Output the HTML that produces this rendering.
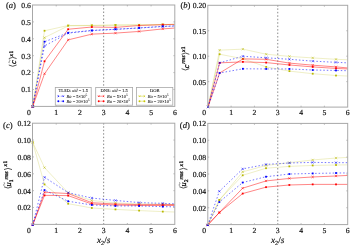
<!DOCTYPE html>
<html><head><meta charset="utf-8"><style>
html,body{margin:0;padding:0;background:#fff;}
body{width:350px;height:248px;overflow:hidden;}
svg{display:block;}
text{font-family:"Liberation Serif",serif;fill:#111;stroke:#111;stroke-width:0.17px;text-rendering:geometricPrecision;}
svg{will-change:transform;}
.tl{font-size:7.7px;}
.pl{font-size:8.6px;}
.lg{font-size:4.5px;stroke-width:0.06px;}
.yl{stroke-width:0.3px;}
.xl{font-size:9.2px;}
</style></head><body>
<svg width="350" height="248" viewBox="0 0 350 248">
<rect width="350" height="248" fill="#fff"/>
<line x1="103.65" y1="5" x2="103.65" y2="106.4" stroke="#8a8a8a" stroke-width="1" stroke-dasharray="1.5 1.96" stroke-dashoffset="0.39"/>
<polyline points="32.7,106.5 44.53,30.75 68.17,25.52 91.83,25.36 115.47,25.02 139.12,24.85 162.77,24.51 174.6,24.34" fill="none" stroke="#b8b800" stroke-width="0.7" stroke-opacity="0.32"/>
<rect x="31.8" y="105.6" width="1.8" height="1.8" fill="#b8b800"/>
<rect x="43.63" y="29.85" width="1.8" height="1.8" fill="#b8b800"/>
<rect x="67.27" y="24.62" width="1.8" height="1.8" fill="#b8b800"/>
<rect x="90.92" y="24.46" width="1.8" height="1.8" fill="#b8b800"/>
<rect x="114.57" y="24.12" width="1.8" height="1.8" fill="#b8b800"/>
<rect x="138.22" y="23.95" width="1.8" height="1.8" fill="#b8b800"/>
<rect x="161.87" y="23.61" width="1.8" height="1.8" fill="#b8b800"/>
<polyline points="32.7,106.5 44.53,37.67 68.17,25.86 91.83,25.52 115.47,25.19 139.12,25.02 162.77,24.68 174.6,24.51" fill="none" stroke="#b8b800" stroke-width="0.7" stroke-opacity="0.32"/>
<path d="M31.55 105.35L33.85 107.65M31.55 107.65L33.85 105.35" stroke="#b8b800" stroke-width="0.5" fill="none"/>
<path d="M43.38 36.52L45.68 38.82M43.38 38.82L45.68 36.52" stroke="#b8b800" stroke-width="0.5" fill="none"/>
<path d="M67.02 24.71L69.33 27.01M67.02 27.01L69.33 24.71" stroke="#b8b800" stroke-width="0.5" fill="none"/>
<path d="M90.67 24.37L92.98 26.67M90.67 26.67L92.98 24.37" stroke="#b8b800" stroke-width="0.5" fill="none"/>
<path d="M114.32 24.04L116.62 26.34M114.32 26.34L116.62 24.04" stroke="#b8b800" stroke-width="0.5" fill="none"/>
<path d="M137.97 23.87L140.28 26.17M137.97 26.17L140.28 23.87" stroke="#b8b800" stroke-width="0.5" fill="none"/>
<path d="M161.62 23.53L163.92 25.83M161.62 25.83L163.92 23.53" stroke="#b8b800" stroke-width="0.5" fill="none"/>
<polyline points="32.7,106.5 44.53,73.77 68.17,39.86 91.83,34.13 115.47,33.12 139.12,31.43 162.77,28.9 174.6,28.05" fill="none" stroke="#ff0000" stroke-width="0.8" stroke-opacity="0.6"/>
<path d="M31.55 105.35L33.85 107.65M31.55 107.65L33.85 105.35" stroke="#ff0000" stroke-width="0.5" fill="none"/>
<path d="M43.38 72.62L45.68 74.92M43.38 74.92L45.68 72.62" stroke="#ff0000" stroke-width="0.5" fill="none"/>
<path d="M67.02 38.71L69.33 41.01M67.02 41.01L69.33 38.71" stroke="#ff0000" stroke-width="0.5" fill="none"/>
<path d="M90.67 32.98L92.98 35.28M90.67 35.28L92.98 32.98" stroke="#ff0000" stroke-width="0.5" fill="none"/>
<path d="M114.32 31.97L116.62 34.27M114.32 34.27L116.62 31.97" stroke="#ff0000" stroke-width="0.5" fill="none"/>
<path d="M137.97 30.28L140.28 32.58M137.97 32.58L140.28 30.28" stroke="#ff0000" stroke-width="0.5" fill="none"/>
<path d="M161.62 27.75L163.92 30.05M161.62 30.05L163.92 27.75" stroke="#ff0000" stroke-width="0.5" fill="none"/>
<polyline points="32.7,106.5 44.53,61.29 68.17,29.24 91.83,27.04 115.47,27.38 139.12,25.52 162.77,24.68 174.6,24.34" fill="none" stroke="#ff0000" stroke-width="0.8" stroke-opacity="0.6"/>
<rect x="31.8" y="105.6" width="1.8" height="1.8" fill="#ff0000"/>
<rect x="43.63" y="60.39" width="1.8" height="1.8" fill="#ff0000"/>
<rect x="67.27" y="28.34" width="1.8" height="1.8" fill="#ff0000"/>
<rect x="90.92" y="26.14" width="1.8" height="1.8" fill="#ff0000"/>
<rect x="114.57" y="26.48" width="1.8" height="1.8" fill="#ff0000"/>
<rect x="138.22" y="24.62" width="1.8" height="1.8" fill="#ff0000"/>
<rect x="161.87" y="23.78" width="1.8" height="1.8" fill="#ff0000"/>
<polyline points="32.7,106.5 44.53,45.94 68.17,33.12 91.83,30.59 115.47,29.4 139.12,28.05 162.77,26.54 174.6,26.03" fill="none" stroke="#0000ff" stroke-width="0.9" stroke-opacity="0.6" stroke-dasharray="1.5 2.0"/>
<path d="M31.55 105.35L33.85 107.65M31.55 107.65L33.85 105.35" stroke="#0000ff" stroke-width="0.5" fill="none"/>
<path d="M43.38 44.79L45.68 47.09M43.38 47.09L45.68 44.79" stroke="#0000ff" stroke-width="0.5" fill="none"/>
<path d="M67.02 31.97L69.33 34.27M67.02 34.27L69.33 31.97" stroke="#0000ff" stroke-width="0.5" fill="none"/>
<path d="M90.67 29.44L92.98 31.74M90.67 31.74L92.98 29.44" stroke="#0000ff" stroke-width="0.5" fill="none"/>
<path d="M114.32 28.25L116.62 30.55M114.32 30.55L116.62 28.25" stroke="#0000ff" stroke-width="0.5" fill="none"/>
<path d="M137.97 26.9L140.28 29.2M137.97 29.2L140.28 26.9" stroke="#0000ff" stroke-width="0.5" fill="none"/>
<path d="M161.62 25.39L163.92 27.69M161.62 27.69L163.92 25.39" stroke="#0000ff" stroke-width="0.5" fill="none"/>
<polyline points="32.7,106.5 44.53,41.72 68.17,32.78 91.83,30.42 115.47,29.24 139.12,27.89 162.77,26.37 174.6,25.86" fill="none" stroke="#0000ff" stroke-width="0.9" stroke-opacity="0.6" stroke-dasharray="1.5 2.0"/>
<rect x="31.8" y="105.6" width="1.8" height="1.8" fill="#0000ff"/>
<rect x="43.63" y="40.82" width="1.8" height="1.8" fill="#0000ff"/>
<rect x="67.27" y="31.88" width="1.8" height="1.8" fill="#0000ff"/>
<rect x="90.92" y="29.52" width="1.8" height="1.8" fill="#0000ff"/>
<rect x="114.57" y="28.34" width="1.8" height="1.8" fill="#0000ff"/>
<rect x="138.22" y="26.99" width="1.8" height="1.8" fill="#0000ff"/>
<rect x="161.87" y="25.47" width="1.8" height="1.8" fill="#0000ff"/>
<rect x="32.5" y="5" width="142.3" height="101.4" fill="none" stroke="#a8a8a8" stroke-width="1"/>
<path d="M56.22 106.4v-1.4M56.22 5v1.4M79.93 106.4v-1.4M79.93 5v1.4M103.65 106.4v-1.4M103.65 5v1.4M127.37 106.4v-1.4M127.37 5v1.4M151.08 106.4v-1.4M151.08 5v1.4M32.5 89.5h1.4M174.8 89.5h-1.4M32.5 72.6h1.4M174.8 72.6h-1.4M32.5 55.7h1.4M174.8 55.7h-1.4M32.5 38.8h1.4M174.8 38.8h-1.4M32.5 21.9h1.4M174.8 21.9h-1.4" stroke="#a8a8a8" stroke-width="0.8"/>
<text x="30.9" y="92.35" text-anchor="end" class="tl">0.1</text>
<text x="30.9" y="75.45" text-anchor="end" class="tl">0.2</text>
<text x="30.9" y="58.55" text-anchor="end" class="tl">0.3</text>
<text x="30.9" y="41.65" text-anchor="end" class="tl">0.4</text>
<text x="30.9" y="24.75" text-anchor="end" class="tl">0.5</text>
<text x="30.9" y="7.85" text-anchor="end" class="tl">0.6</text>
<text x="56.22" y="114.7" text-anchor="middle" class="tl">1</text>
<text x="79.93" y="114.7" text-anchor="middle" class="tl">2</text>
<text x="103.65" y="114.7" text-anchor="middle" class="tl">3</text>
<text x="127.37" y="114.7" text-anchor="middle" class="tl">4</text>
<text x="151.08" y="114.7" text-anchor="middle" class="tl">5</text>
<text x="174.8" y="114.7" text-anchor="middle" class="tl">6</text>
<text x="28.9" y="114.7" text-anchor="middle" class="tl">0</text>
<line x1="277.75" y1="5.3" x2="277.75" y2="107.1" stroke="#8a8a8a" stroke-width="1" stroke-dasharray="1.5 1.96" stroke-dashoffset="0.39"/>
<polyline points="208,107 219.63,54.22 242.91,58.79 266.18,66.91 289.44,71.12 312.72,73.71 335.99,75.53 347.62,76.04" fill="none" stroke="#b8b800" stroke-width="0.7" stroke-opacity="0.32"/>
<rect x="207.1" y="106.1" width="1.8" height="1.8" fill="#b8b800"/>
<rect x="218.73" y="53.32" width="1.8" height="1.8" fill="#b8b800"/>
<rect x="242" y="57.89" width="1.8" height="1.8" fill="#b8b800"/>
<rect x="265.28" y="66.01" width="1.8" height="1.8" fill="#b8b800"/>
<rect x="288.55" y="70.22" width="1.8" height="1.8" fill="#b8b800"/>
<rect x="311.82" y="72.81" width="1.8" height="1.8" fill="#b8b800"/>
<rect x="335.09" y="74.63" width="1.8" height="1.8" fill="#b8b800"/>
<polyline points="208,107 219.63,50.16 242.91,49.14 266.18,54.22 289.44,56.4 312.72,57.92 335.99,59.3 347.62,59.8" fill="none" stroke="#b8b800" stroke-width="0.7" stroke-opacity="0.32"/>
<path d="M206.85 105.85L209.15 108.15M206.85 108.15L209.15 105.85" stroke="#b8b800" stroke-width="0.5" fill="none"/>
<path d="M218.48 49.01L220.78 51.31M218.48 51.31L220.78 49.01" stroke="#b8b800" stroke-width="0.5" fill="none"/>
<path d="M241.75 47.99L244.06 50.29M241.75 50.29L244.06 47.99" stroke="#b8b800" stroke-width="0.5" fill="none"/>
<path d="M265.03 53.07L267.32 55.37M265.03 55.37L267.32 53.07" stroke="#b8b800" stroke-width="0.5" fill="none"/>
<path d="M288.3 55.25L290.59 57.55M288.3 57.55L290.59 55.25" stroke="#b8b800" stroke-width="0.5" fill="none"/>
<path d="M311.57 56.77L313.87 59.07M311.57 59.07L313.87 56.77" stroke="#b8b800" stroke-width="0.5" fill="none"/>
<path d="M334.84 58.15L337.13 60.45M334.84 60.45L337.13 58.15" stroke="#b8b800" stroke-width="0.5" fill="none"/>
<polyline points="208,107 219.63,73 242.91,58.89 266.18,59.3 289.44,63.1 312.72,65.18 335.99,66.91 347.62,67.92" fill="none" stroke="#ff0000" stroke-width="0.8" stroke-opacity="0.6"/>
<path d="M206.85 105.85L209.15 108.15M206.85 108.15L209.15 105.85" stroke="#ff0000" stroke-width="0.5" fill="none"/>
<path d="M218.48 71.85L220.78 74.15M218.48 74.15L220.78 71.85" stroke="#ff0000" stroke-width="0.5" fill="none"/>
<path d="M241.75 57.74L244.06 60.04M241.75 60.04L244.06 57.74" stroke="#ff0000" stroke-width="0.5" fill="none"/>
<path d="M265.03 58.15L267.32 60.45M265.03 60.45L267.32 58.15" stroke="#ff0000" stroke-width="0.5" fill="none"/>
<path d="M288.3 61.95L290.59 64.25M288.3 64.25L290.59 61.95" stroke="#ff0000" stroke-width="0.5" fill="none"/>
<path d="M311.57 64.03L313.87 66.33M311.57 66.33L313.87 64.03" stroke="#ff0000" stroke-width="0.5" fill="none"/>
<path d="M334.84 65.76L337.13 68.06M334.84 68.06L337.13 65.76" stroke="#ff0000" stroke-width="0.5" fill="none"/>
<polyline points="208,107 219.63,62.85 242.91,61.88 266.18,62.59 289.44,64.98 312.72,66.91 335.99,68.43 347.62,68.94" fill="none" stroke="#ff0000" stroke-width="0.8" stroke-opacity="0.6"/>
<rect x="207.1" y="106.1" width="1.8" height="1.8" fill="#ff0000"/>
<rect x="218.73" y="61.95" width="1.8" height="1.8" fill="#ff0000"/>
<rect x="242" y="60.98" width="1.8" height="1.8" fill="#ff0000"/>
<rect x="265.28" y="61.69" width="1.8" height="1.8" fill="#ff0000"/>
<rect x="288.55" y="64.08" width="1.8" height="1.8" fill="#ff0000"/>
<rect x="311.82" y="66.01" width="1.8" height="1.8" fill="#ff0000"/>
<rect x="335.09" y="67.53" width="1.8" height="1.8" fill="#ff0000"/>
<polyline points="208,107 219.63,62.85 242.91,56.25 266.18,57.77 289.44,59.3 312.72,61.12 335.99,62.34 347.62,62.85" fill="none" stroke="#0000ff" stroke-width="0.9" stroke-opacity="0.6" stroke-dasharray="1.5 2.0"/>
<path d="M206.85 105.85L209.15 108.15M206.85 108.15L209.15 105.85" stroke="#0000ff" stroke-width="0.5" fill="none"/>
<path d="M218.48 61.7L220.78 64M218.48 64L220.78 61.7" stroke="#0000ff" stroke-width="0.5" fill="none"/>
<path d="M241.75 55.1L244.06 57.4M241.75 57.4L244.06 55.1" stroke="#0000ff" stroke-width="0.5" fill="none"/>
<path d="M265.03 56.62L267.32 58.92M265.03 58.92L267.32 56.62" stroke="#0000ff" stroke-width="0.5" fill="none"/>
<path d="M288.3 58.15L290.59 60.45M288.3 60.45L290.59 58.15" stroke="#0000ff" stroke-width="0.5" fill="none"/>
<path d="M311.57 59.97L313.87 62.27M311.57 62.27L313.87 59.97" stroke="#0000ff" stroke-width="0.5" fill="none"/>
<path d="M334.84 61.19L337.13 63.49M334.84 63.49L337.13 61.19" stroke="#0000ff" stroke-width="0.5" fill="none"/>
<polyline points="208,107 219.63,73 242.91,68.79 266.18,68.94 289.44,68.94 312.72,70 335.99,70.46 347.62,70.71" fill="none" stroke="#0000ff" stroke-width="0.9" stroke-opacity="0.6" stroke-dasharray="1.5 2.0"/>
<rect x="207.1" y="106.1" width="1.8" height="1.8" fill="#0000ff"/>
<rect x="218.73" y="72.1" width="1.8" height="1.8" fill="#0000ff"/>
<rect x="242" y="67.89" width="1.8" height="1.8" fill="#0000ff"/>
<rect x="265.28" y="68.04" width="1.8" height="1.8" fill="#0000ff"/>
<rect x="288.55" y="68.04" width="1.8" height="1.8" fill="#0000ff"/>
<rect x="311.82" y="69.1" width="1.8" height="1.8" fill="#0000ff"/>
<rect x="335.09" y="69.56" width="1.8" height="1.8" fill="#0000ff"/>
<rect x="207.8" y="5.3" width="139.9" height="101.8" fill="none" stroke="#a8a8a8" stroke-width="1"/>
<path d="M231.12 107.1v-1.4M231.12 5.3v1.4M254.43 107.1v-1.4M254.43 5.3v1.4M277.75 107.1v-1.4M277.75 5.3v1.4M301.07 107.1v-1.4M301.07 5.3v1.4M324.38 107.1v-1.4M324.38 5.3v1.4M207.8 81.65h1.4M347.7 81.65h-1.4M207.8 56.2h1.4M347.7 56.2h-1.4M207.8 30.75h1.4M347.7 30.75h-1.4" stroke="#a8a8a8" stroke-width="0.8"/>
<text x="206.2" y="84.5" text-anchor="end" class="tl">0.05</text>
<text x="206.2" y="59.05" text-anchor="end" class="tl">0.10</text>
<text x="206.2" y="33.6" text-anchor="end" class="tl">0.15</text>
<text x="206.2" y="8.15" text-anchor="end" class="tl">0.20</text>
<text x="231.12" y="115.4" text-anchor="middle" class="tl">1</text>
<text x="254.43" y="115.4" text-anchor="middle" class="tl">2</text>
<text x="277.75" y="115.4" text-anchor="middle" class="tl">3</text>
<text x="301.07" y="115.4" text-anchor="middle" class="tl">4</text>
<text x="324.38" y="115.4" text-anchor="middle" class="tl">5</text>
<text x="347.7" y="115.4" text-anchor="middle" class="tl">6</text>
<text x="204.2" y="115.4" text-anchor="middle" class="tl">0</text>
<line x1="103.65" y1="123.2" x2="103.65" y2="224.4" stroke="#8a8a8a" stroke-width="1" stroke-dasharray="1.5 1.96" stroke-dashoffset="0.39"/>
<polyline points="32.7,142.4 44.53,184.44 68.17,203.7 91.83,207.98 115.47,209.41 139.12,210.59 162.77,211.6 174.6,212.02" fill="none" stroke="#b8b800" stroke-width="0.7" stroke-opacity="0.32"/>
<rect x="31.8" y="141.5" width="1.8" height="1.8" fill="#b8b800"/>
<rect x="43.63" y="183.54" width="1.8" height="1.8" fill="#b8b800"/>
<rect x="67.27" y="202.8" width="1.8" height="1.8" fill="#b8b800"/>
<rect x="90.92" y="207.08" width="1.8" height="1.8" fill="#b8b800"/>
<rect x="114.57" y="208.51" width="1.8" height="1.8" fill="#b8b800"/>
<rect x="138.22" y="209.69" width="1.8" height="1.8" fill="#b8b800"/>
<rect x="161.87" y="210.7" width="1.8" height="1.8" fill="#b8b800"/>
<polyline points="32.7,142.4 44.53,167.63 68.17,192.85 91.83,200.5 115.47,202.94 139.12,203.78 162.77,204.2 174.6,204.62" fill="none" stroke="#b8b800" stroke-width="0.7" stroke-opacity="0.32"/>
<path d="M31.55 141.25L33.85 143.55M31.55 143.55L33.85 141.25" stroke="#b8b800" stroke-width="0.5" fill="none"/>
<path d="M43.38 166.48L45.68 168.78M43.38 168.78L45.68 166.48" stroke="#b8b800" stroke-width="0.5" fill="none"/>
<path d="M67.02 191.7L69.33 194M67.02 194L69.33 191.7" stroke="#b8b800" stroke-width="0.5" fill="none"/>
<path d="M90.67 199.35L92.98 201.65M90.67 201.65L92.98 199.35" stroke="#b8b800" stroke-width="0.5" fill="none"/>
<path d="M114.32 201.79L116.62 204.09M114.32 204.09L116.62 201.79" stroke="#b8b800" stroke-width="0.5" fill="none"/>
<path d="M137.97 202.63L140.28 204.93M137.97 204.93L140.28 202.63" stroke="#b8b800" stroke-width="0.5" fill="none"/>
<path d="M161.62 203.05L163.92 205.35M161.62 205.35L163.92 203.05" stroke="#b8b800" stroke-width="0.5" fill="none"/>
<polyline points="32.7,224.8 44.53,192.26 68.17,193.52 91.83,202.69 115.47,204.03 139.12,204.62 162.77,204.62 174.6,204.62" fill="none" stroke="#ff0000" stroke-width="0.8" stroke-opacity="0.6"/>
<path d="M31.55 223.65L33.85 225.95M31.55 225.95L33.85 223.65" stroke="#ff0000" stroke-width="0.5" fill="none"/>
<path d="M43.38 191.11L45.68 193.41M43.38 193.41L45.68 191.11" stroke="#ff0000" stroke-width="0.5" fill="none"/>
<path d="M67.02 192.37L69.33 194.67M67.02 194.67L69.33 192.37" stroke="#ff0000" stroke-width="0.5" fill="none"/>
<path d="M90.67 201.54L92.98 203.84M90.67 203.84L92.98 201.54" stroke="#ff0000" stroke-width="0.5" fill="none"/>
<path d="M114.32 202.88L116.62 205.18M114.32 205.18L116.62 202.88" stroke="#ff0000" stroke-width="0.5" fill="none"/>
<path d="M137.97 203.47L140.28 205.77M137.97 205.77L140.28 203.47" stroke="#ff0000" stroke-width="0.5" fill="none"/>
<path d="M161.62 203.47L163.92 205.77M161.62 205.77L163.92 203.47" stroke="#ff0000" stroke-width="0.5" fill="none"/>
<polyline points="32.7,224.8 44.53,195.37 68.17,195.62 91.83,204.03 115.47,205.04 139.12,205.46 162.77,205.46 174.6,205.46" fill="none" stroke="#ff0000" stroke-width="0.8" stroke-opacity="0.6"/>
<rect x="31.8" y="223.9" width="1.8" height="1.8" fill="#ff0000"/>
<rect x="43.63" y="194.47" width="1.8" height="1.8" fill="#ff0000"/>
<rect x="67.27" y="194.72" width="1.8" height="1.8" fill="#ff0000"/>
<rect x="90.92" y="203.13" width="1.8" height="1.8" fill="#ff0000"/>
<rect x="114.57" y="204.14" width="1.8" height="1.8" fill="#ff0000"/>
<rect x="138.22" y="204.56" width="1.8" height="1.8" fill="#ff0000"/>
<rect x="161.87" y="204.56" width="1.8" height="1.8" fill="#ff0000"/>
<polyline points="32.7,224.8 44.53,177.29 68.17,192.68 91.83,198.06 115.47,200.42 139.12,202.6 162.77,203.36 174.6,203.78" fill="none" stroke="#0000ff" stroke-width="0.9" stroke-opacity="0.6" stroke-dasharray="1.5 2.0"/>
<path d="M31.55 223.65L33.85 225.95M31.55 225.95L33.85 223.65" stroke="#0000ff" stroke-width="0.5" fill="none"/>
<path d="M43.38 176.14L45.68 178.44M43.38 178.44L45.68 176.14" stroke="#0000ff" stroke-width="0.5" fill="none"/>
<path d="M67.02 191.53L69.33 193.83M67.02 193.83L69.33 191.53" stroke="#0000ff" stroke-width="0.5" fill="none"/>
<path d="M90.67 196.91L92.98 199.21M90.67 199.21L92.98 196.91" stroke="#0000ff" stroke-width="0.5" fill="none"/>
<path d="M114.32 199.27L116.62 201.57M114.32 201.57L116.62 199.27" stroke="#0000ff" stroke-width="0.5" fill="none"/>
<path d="M137.97 201.45L140.28 203.75M137.97 203.75L140.28 201.45" stroke="#0000ff" stroke-width="0.5" fill="none"/>
<path d="M161.62 202.21L163.92 204.51M161.62 204.51L163.92 202.21" stroke="#0000ff" stroke-width="0.5" fill="none"/>
<polyline points="32.7,224.8 44.53,190.07 68.17,201.26 91.83,204.96 115.47,205.97 139.12,205.97 162.77,206.64 174.6,206.81" fill="none" stroke="#0000ff" stroke-width="0.9" stroke-opacity="0.6" stroke-dasharray="1.5 2.0"/>
<rect x="31.8" y="223.9" width="1.8" height="1.8" fill="#0000ff"/>
<rect x="43.63" y="189.17" width="1.8" height="1.8" fill="#0000ff"/>
<rect x="67.27" y="200.36" width="1.8" height="1.8" fill="#0000ff"/>
<rect x="90.92" y="204.06" width="1.8" height="1.8" fill="#0000ff"/>
<rect x="114.57" y="205.07" width="1.8" height="1.8" fill="#0000ff"/>
<rect x="138.22" y="205.07" width="1.8" height="1.8" fill="#0000ff"/>
<rect x="161.87" y="205.74" width="1.8" height="1.8" fill="#0000ff"/>
<rect x="32.5" y="123.2" width="142.3" height="101.2" fill="none" stroke="#a8a8a8" stroke-width="1"/>
<path d="M56.22 224.4v-1.4M56.22 123.2v1.4M79.93 224.4v-1.4M79.93 123.2v1.4M103.65 224.4v-1.4M103.65 123.2v1.4M127.37 224.4v-1.4M127.37 123.2v1.4M151.08 224.4v-1.4M151.08 123.2v1.4M32.5 207.53h1.4M174.8 207.53h-1.4M32.5 190.67h1.4M174.8 190.67h-1.4M32.5 173.8h1.4M174.8 173.8h-1.4M32.5 156.93h1.4M174.8 156.93h-1.4M32.5 140.07h1.4M174.8 140.07h-1.4" stroke="#a8a8a8" stroke-width="0.8"/>
<text x="30.9" y="210.38" text-anchor="end" class="tl">0.02</text>
<text x="30.9" y="193.52" text-anchor="end" class="tl">0.04</text>
<text x="30.9" y="176.65" text-anchor="end" class="tl">0.06</text>
<text x="30.9" y="159.78" text-anchor="end" class="tl">0.08</text>
<text x="30.9" y="142.92" text-anchor="end" class="tl">0.10</text>
<text x="30.9" y="126.05" text-anchor="end" class="tl">0.12</text>
<text x="56.22" y="232.7" text-anchor="middle" class="tl">1</text>
<text x="79.93" y="232.7" text-anchor="middle" class="tl">2</text>
<text x="103.65" y="232.7" text-anchor="middle" class="tl">3</text>
<text x="127.37" y="232.7" text-anchor="middle" class="tl">4</text>
<text x="151.08" y="232.7" text-anchor="middle" class="tl">5</text>
<text x="174.8" y="232.7" text-anchor="middle" class="tl">6</text>
<text x="28.9" y="232.7" text-anchor="middle" class="tl">0</text>
<line x1="277.75" y1="123.4" x2="277.75" y2="224.6" stroke="#8a8a8a" stroke-width="1" stroke-dasharray="1.5 1.96" stroke-dashoffset="0.39"/>
<polyline points="207.7,225 219.36,199.98 242.69,175.29 266.02,168.22 289.36,166.36 312.68,165.44 336.01,165.01 347.68,164.85" fill="none" stroke="#b8b800" stroke-width="0.7" stroke-opacity="0.32"/>
<rect x="206.8" y="224.1" width="1.8" height="1.8" fill="#b8b800"/>
<rect x="218.46" y="199.08" width="1.8" height="1.8" fill="#b8b800"/>
<rect x="241.79" y="174.39" width="1.8" height="1.8" fill="#b8b800"/>
<rect x="265.12" y="167.32" width="1.8" height="1.8" fill="#b8b800"/>
<rect x="288.46" y="165.46" width="1.8" height="1.8" fill="#b8b800"/>
<rect x="311.78" y="164.54" width="1.8" height="1.8" fill="#b8b800"/>
<rect x="335.12" y="164.11" width="1.8" height="1.8" fill="#b8b800"/>
<polyline points="207.7,225 219.36,199.98 242.69,171.84 266.02,165.52 289.36,162.66 312.68,159.96 336.01,158.02 347.68,157.43" fill="none" stroke="#b8b800" stroke-width="0.7" stroke-opacity="0.32"/>
<path d="M206.55 223.85L208.85 226.15M206.55 226.15L208.85 223.85" stroke="#b8b800" stroke-width="0.5" fill="none"/>
<path d="M218.21 198.83L220.51 201.13M218.21 201.13L220.51 198.83" stroke="#b8b800" stroke-width="0.5" fill="none"/>
<path d="M241.54 170.69L243.84 172.99M241.54 172.99L243.84 170.69" stroke="#b8b800" stroke-width="0.5" fill="none"/>
<path d="M264.88 164.37L267.17 166.67M264.88 166.67L267.17 164.37" stroke="#b8b800" stroke-width="0.5" fill="none"/>
<path d="M288.21 161.5L290.5 163.81M288.21 163.81L290.5 161.5" stroke="#b8b800" stroke-width="0.5" fill="none"/>
<path d="M311.53 158.81L313.83 161.11M311.53 161.11L313.83 158.81" stroke="#b8b800" stroke-width="0.5" fill="none"/>
<path d="M334.87 156.87L337.16 159.17M334.87 159.17L337.16 156.87" stroke="#b8b800" stroke-width="0.5" fill="none"/>
<polyline points="207.7,225 219.36,212.53 242.69,188.18 266.02,180.94 289.36,178.41 312.68,176.98 336.01,175.97 347.68,175.46" fill="none" stroke="#ff0000" stroke-width="0.8" stroke-opacity="0.6"/>
<path d="M206.55 223.85L208.85 226.15M206.55 226.15L208.85 223.85" stroke="#ff0000" stroke-width="0.5" fill="none"/>
<path d="M218.21 211.38L220.51 213.68M218.21 213.68L220.51 211.38" stroke="#ff0000" stroke-width="0.5" fill="none"/>
<path d="M241.54 187.03L243.84 189.33M241.54 189.33L243.84 187.03" stroke="#ff0000" stroke-width="0.5" fill="none"/>
<path d="M264.88 179.79L267.17 182.09M264.88 182.09L267.17 179.79" stroke="#ff0000" stroke-width="0.5" fill="none"/>
<path d="M288.21 177.26L290.5 179.56M288.21 179.56L290.5 177.26" stroke="#ff0000" stroke-width="0.5" fill="none"/>
<path d="M311.53 175.83L313.83 178.13M311.53 178.13L313.83 175.83" stroke="#ff0000" stroke-width="0.5" fill="none"/>
<path d="M334.87 174.82L337.16 177.12M334.87 177.12L337.16 174.82" stroke="#ff0000" stroke-width="0.5" fill="none"/>
<polyline points="207.7,225 219.36,212.53 242.69,193.57 266.02,187.17 289.36,184.98 312.68,184.39 336.01,184.39 347.68,184.39" fill="none" stroke="#ff0000" stroke-width="0.8" stroke-opacity="0.6"/>
<rect x="206.8" y="224.1" width="1.8" height="1.8" fill="#ff0000"/>
<rect x="218.46" y="211.63" width="1.8" height="1.8" fill="#ff0000"/>
<rect x="241.79" y="192.67" width="1.8" height="1.8" fill="#ff0000"/>
<rect x="265.12" y="186.27" width="1.8" height="1.8" fill="#ff0000"/>
<rect x="288.46" y="184.08" width="1.8" height="1.8" fill="#ff0000"/>
<rect x="311.78" y="183.49" width="1.8" height="1.8" fill="#ff0000"/>
<rect x="335.12" y="183.49" width="1.8" height="1.8" fill="#ff0000"/>
<polyline points="207.7,225 219.36,191.3 242.69,168.89 266.02,164.42 289.36,162.99 312.68,162.4 336.01,162.66 347.68,162.66" fill="none" stroke="#0000ff" stroke-width="0.9" stroke-opacity="0.6" stroke-dasharray="1.5 2.0"/>
<path d="M206.55 223.85L208.85 226.15M206.55 226.15L208.85 223.85" stroke="#0000ff" stroke-width="0.5" fill="none"/>
<path d="M218.21 190.15L220.51 192.45M218.21 192.45L220.51 190.15" stroke="#0000ff" stroke-width="0.5" fill="none"/>
<path d="M241.54 167.74L243.84 170.04M241.54 170.04L243.84 167.74" stroke="#0000ff" stroke-width="0.5" fill="none"/>
<path d="M264.88 163.27L267.17 165.57M264.88 165.57L267.17 163.27" stroke="#0000ff" stroke-width="0.5" fill="none"/>
<path d="M288.21 161.84L290.5 164.14M288.21 164.14L290.5 161.84" stroke="#0000ff" stroke-width="0.5" fill="none"/>
<path d="M311.53 161.25L313.83 163.55M311.53 163.55L313.83 161.25" stroke="#0000ff" stroke-width="0.5" fill="none"/>
<path d="M334.87 161.5L337.16 163.81M334.87 163.81L337.16 161.5" stroke="#0000ff" stroke-width="0.5" fill="none"/>
<polyline points="207.7,225 219.36,202 242.69,182.54 266.02,176.72 289.36,174.03 312.68,173.44 336.01,173.02 347.68,172.93" fill="none" stroke="#0000ff" stroke-width="0.9" stroke-opacity="0.6" stroke-dasharray="1.5 2.0"/>
<rect x="206.8" y="224.1" width="1.8" height="1.8" fill="#0000ff"/>
<rect x="218.46" y="201.1" width="1.8" height="1.8" fill="#0000ff"/>
<rect x="241.79" y="181.64" width="1.8" height="1.8" fill="#0000ff"/>
<rect x="265.12" y="175.82" width="1.8" height="1.8" fill="#0000ff"/>
<rect x="288.46" y="173.13" width="1.8" height="1.8" fill="#0000ff"/>
<rect x="311.78" y="172.54" width="1.8" height="1.8" fill="#0000ff"/>
<rect x="335.12" y="172.12" width="1.8" height="1.8" fill="#0000ff"/>
<rect x="207.8" y="123.4" width="139.9" height="101.2" fill="none" stroke="#a8a8a8" stroke-width="1"/>
<path d="M231.12 224.6v-1.4M231.12 123.4v1.4M254.43 224.6v-1.4M254.43 123.4v1.4M277.75 224.6v-1.4M277.75 123.4v1.4M301.07 224.6v-1.4M301.07 123.4v1.4M324.38 224.6v-1.4M324.38 123.4v1.4M207.8 207.73h1.4M347.7 207.73h-1.4M207.8 190.87h1.4M347.7 190.87h-1.4M207.8 174h1.4M347.7 174h-1.4M207.8 157.13h1.4M347.7 157.13h-1.4M207.8 140.27h1.4M347.7 140.27h-1.4" stroke="#a8a8a8" stroke-width="0.8"/>
<text x="206.2" y="210.58" text-anchor="end" class="tl">0.02</text>
<text x="206.2" y="193.72" text-anchor="end" class="tl">0.04</text>
<text x="206.2" y="176.85" text-anchor="end" class="tl">0.06</text>
<text x="206.2" y="159.98" text-anchor="end" class="tl">0.08</text>
<text x="206.2" y="143.12" text-anchor="end" class="tl">0.10</text>
<text x="206.2" y="126.25" text-anchor="end" class="tl">0.12</text>
<text x="231.12" y="232.9" text-anchor="middle" class="tl">1</text>
<text x="254.43" y="232.9" text-anchor="middle" class="tl">2</text>
<text x="277.75" y="232.9" text-anchor="middle" class="tl">3</text>
<text x="301.07" y="232.9" text-anchor="middle" class="tl">4</text>
<text x="324.38" y="232.9" text-anchor="middle" class="tl">5</text>
<text x="347.7" y="232.9" text-anchor="middle" class="tl">6</text>
<text x="204.2" y="232.9" text-anchor="middle" class="tl">0</text>
<text x="5.9" y="7.6" class="pl">(<tspan font-style="italic">a</tspan>)</text>
<text x="180.4" y="7.6" class="pl">(<tspan font-style="italic">b</tspan>)</text>
<text x="3.0" y="127.5" class="pl">(<tspan font-style="italic">c</tspan>)</text>
<text x="179.8" y="127.5" class="pl">(<tspan font-style="italic">d</tspan>)</text>
<rect x="55.3" y="87.4" width="35.9" height="17.8" fill="#fff" stroke="#a8a8a8" stroke-width="0.8"/>
<text x="73.2" y="92.4" text-anchor="middle" class="lg">TLSD: <tspan font-style="italic">x</tspan>/<tspan font-style="italic">d</tspan> = 1.5</text>
<line x1="58.3" y1="96.2" x2="63.2" y2="96.2" stroke="#0000ff" stroke-width="0.6" stroke-opacity="0.7" stroke-dasharray="1.2 1.2"/>
<path d="M57.6 95.5L59 96.9M57.6 96.9L59 95.5" stroke="#0000ff" stroke-width="0.7" fill="none"/>
<path d="M62.5 95.5L63.9 96.9M62.5 96.9L63.9 95.5" stroke="#0000ff" stroke-width="0.7" fill="none"/>
<text x="66.5" y="97.7" class="lg"><tspan font-style="italic">Ra</tspan> = 5×10<tspan dy="-1.6" font-size="3.5">5</tspan></text>
<line x1="58.3" y1="101.2" x2="63.2" y2="101.2" stroke="#0000ff" stroke-width="0.6" stroke-opacity="0.7" stroke-dasharray="1.2 1.2"/>
<circle cx="58.3" cy="101.2" r="0.95" fill="#0000ff"/>
<circle cx="63.2" cy="101.2" r="0.95" fill="#0000ff"/>
<text x="66.5" y="102.7" class="lg"><tspan font-style="italic">Ra</tspan> = 20×10<tspan dy="-1.6" font-size="3.5">5</tspan></text>
<rect x="95.7" y="87.4" width="36.9" height="17.8" fill="#fff" stroke="#a8a8a8" stroke-width="0.8"/>
<text x="114.2" y="92.4" text-anchor="middle" class="lg">DNS: <tspan font-style="italic">x</tspan>/<tspan font-style="italic">d</tspan> = 1.5</text>
<line x1="98.7" y1="96.2" x2="103.6" y2="96.2" stroke="#ff0000" stroke-width="0.6" stroke-opacity="0.7"/>
<path d="M98 95.5L99.4 96.9M98 96.9L99.4 95.5" stroke="#ff0000" stroke-width="0.7" fill="none"/>
<path d="M102.9 95.5L104.3 96.9M102.9 96.9L104.3 95.5" stroke="#ff0000" stroke-width="0.7" fill="none"/>
<text x="106.9" y="97.7" class="lg"><tspan font-style="italic">Ra</tspan> = 5×10<tspan dy="-1.6" font-size="3.5">5</tspan></text>
<line x1="98.7" y1="101.2" x2="103.6" y2="101.2" stroke="#ff0000" stroke-width="0.6" stroke-opacity="0.7"/>
<circle cx="98.7" cy="101.2" r="0.95" fill="#ff0000"/>
<circle cx="103.6" cy="101.2" r="0.95" fill="#ff0000"/>
<text x="106.9" y="102.7" class="lg"><tspan font-style="italic">Ra</tspan> = 20×10<tspan dy="-1.6" font-size="3.5">5</tspan></text>
<rect x="136.5" y="87.4" width="36.3" height="17.8" fill="#fff" stroke="#a8a8a8" stroke-width="0.8"/>
<text x="154.7" y="92.4" text-anchor="middle" class="lg">DOB</text>
<line x1="139.5" y1="96.2" x2="144.4" y2="96.2" stroke="#c8c800" stroke-width="0.6" stroke-opacity="0.7"/>
<path d="M138.8 95.5L140.2 96.9M138.8 96.9L140.2 95.5" stroke="#c8c800" stroke-width="0.7" fill="none"/>
<path d="M143.7 95.5L145.1 96.9M143.7 96.9L145.1 95.5" stroke="#c8c800" stroke-width="0.7" fill="none"/>
<text x="147.7" y="97.7" class="lg"><tspan font-style="italic">Ra</tspan> = 5×10<tspan dy="-1.6" font-size="3.5">5</tspan></text>
<line x1="139.5" y1="101.2" x2="144.4" y2="101.2" stroke="#c8c800" stroke-width="0.6" stroke-opacity="0.7"/>
<circle cx="139.5" cy="101.2" r="0.95" fill="#c8c800"/>
<circle cx="144.4" cy="101.2" r="0.95" fill="#c8c800"/>
<text x="147.7" y="102.7" class="lg"><tspan font-style="italic">Ra</tspan> = 20×10<tspan dy="-1.6" font-size="3.5">5</tspan></text>
<g transform="translate(16.0,66.5) rotate(-90)">
<path d="M1.5 -7.2L0.2 -3.3000000000000003L1.5 0.6" fill="none" stroke="#111" stroke-width="0.7"/>
<text x="2.6" y="0" font-size="8.2" font-style="italic" class="yl">c</text>
<path d="M3.4 -6.6q0.9 -1 1.8 0t1.8 0" fill="none" stroke="#1a1a1a" stroke-width="0.5"/>
<path d="M7.9 -7.2L9.200000000000001 -3.3000000000000003L7.9 0.6" fill="none" stroke="#111" stroke-width="0.7"/>
<text x="10.0" y="-3.4" font-size="5.6" font-style="italic" class="yl">x</text>
<text x="12.9" y="-3.4" font-size="5.6" class="yl">1</text>
</g>
<g transform="translate(188.6,70.2) rotate(-90)">
<path d="M1.5 -7.0L0.2 -3.15L1.5 0.7" fill="none" stroke="#111" stroke-width="0.7"/>
<text x="2.0" y="0" font-size="8.2" font-style="italic" class="yl">c</text>
<text x="6.4" y="-3.2" font-size="5.6" font-style="italic" class="yl">rms</text>
<path d="M15.9 -7.0L17.2 -3.15L15.9 0.7" fill="none" stroke="#111" stroke-width="0.7"/>
<text x="18.2" y="-3.4" font-size="5.6" font-style="italic" class="yl">x</text>
<text x="21.0" y="-3.4" font-size="5.6" class="yl">1</text>
</g>
<g transform="translate(10.6,188.2) rotate(-90)">
<path d="M1.4000000000000001 -6.6L0.1 -2.5999999999999996L1.4000000000000001 1.4" fill="none" stroke="#111" stroke-width="0.7"/>
<text x="1.6" y="0" font-size="8.2" font-style="italic" class="yl">u</text>
<path d="M2.3 -6.5q0.9 -1 1.8 0t1.8 0" fill="none" stroke="#1a1a1a" stroke-width="0.5"/>
<text x="5.9" y="2.2" font-size="5.6" class="yl">1</text>
<text x="8.6" y="-3.0" font-size="5.6" font-style="italic" class="yl">rms</text>
<path d="M18.6 -6.6L19.900000000000002 -2.5999999999999996L18.6 1.4" fill="none" stroke="#111" stroke-width="0.7"/>
<text x="21.6" y="-3.4" font-size="5.6" font-style="italic" class="yl">x</text>
<text x="24.6" y="-3.4" font-size="5.6" class="yl">1</text>
</g>
<g transform="translate(186.0,188.2) rotate(-90)">
<path d="M1.4000000000000001 -6.6L0.1 -2.5999999999999996L1.4000000000000001 1.4" fill="none" stroke="#111" stroke-width="0.7"/>
<text x="1.6" y="0" font-size="8.2" font-style="italic" class="yl">u</text>
<path d="M2.3 -6.5q0.9 -1 1.8 0t1.8 0" fill="none" stroke="#1a1a1a" stroke-width="0.5"/>
<text x="5.9" y="2.2" font-size="5.6" class="yl">2</text>
<text x="8.6" y="-3.0" font-size="5.6" font-style="italic" class="yl">rms</text>
<path d="M18.6 -6.6L19.900000000000002 -2.5999999999999996L18.6 1.4" fill="none" stroke="#111" stroke-width="0.7"/>
<text x="21.6" y="-3.4" font-size="5.6" font-style="italic" class="yl">x</text>
<text x="24.6" y="-3.4" font-size="5.6" class="yl">1</text>
</g>
<text x="97.0" y="243.2" class="xl"><tspan font-style="italic">x</tspan><tspan dy="2.0" font-size="6.2">2</tspan><tspan dy="-2.0">/</tspan><tspan font-style="italic">s</tspan></text>
<text x="271.0" y="243.2" class="xl"><tspan font-style="italic">x</tspan><tspan dy="2.0" font-size="6.2">2</tspan><tspan dy="-2.0">/</tspan><tspan font-style="italic">s</tspan></text>
</svg>
</body></html>
